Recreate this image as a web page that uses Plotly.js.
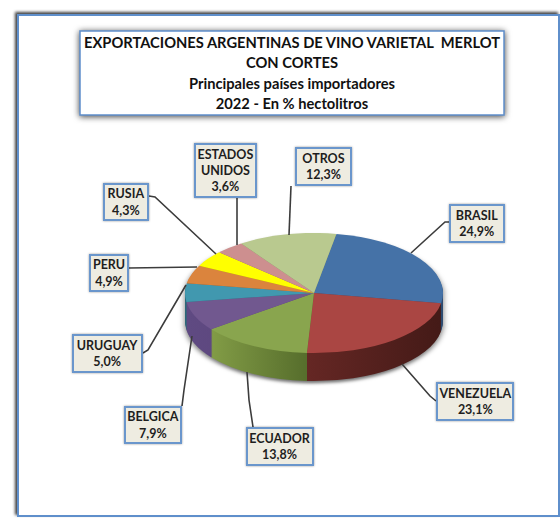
<!DOCTYPE html>
<html><head><meta charset="utf-8">
<script src="https://cdn.plot.ly/plotly-3.0.1.min.js"></script>
<style>html,body{margin:0;padding:0;background:#fff}#c{width:560px;height:518px}</style></head>
<body><div id="c"></div>
<script>
const categories = ["BRASIL","VENEZUELA","ECUADOR","BELGICA","URUGUAY","PERU","RUSIA","ESTADOS UNIDOS","OTROS"];
const shares = [24.9,23.1,13.8,7.9,5.0,4.9,4.3,3.6,12.3];
const shareLabels = ["24,9%","23,1%","13,8%","7,9%","5,0%","4,9%","4,3%","3,6%","12,3%"];
const labelLines = ["BRASIL","VENEZUELA","ECUADOR","BELGICA","URUGUAY","PERU","RUSIA","ESTADOS<br>UNIDOS","OTROS"];
const topColors = ["#4572a7","#aa4643","#89a54e","#71588f","#4198af","#db843d","#ffff00","#cd8f8f","#b9c98f"];
const wallColors = ["#2f4d72","#4a1c19","#687f38","#5c4679","#2d6a7a","#96592a","#aaaa00","#8b6060","#7e8a60"];
const titleLines = ["EXPORTACIONES ARGENTINAS DE VINO VARIETAL  MERLOT","CON CORTES","Principales países importadores","2022 - En % hectolitros"];
const titleBaselines = [48,68,89,109];

// label boxes [left, top, right, bottom] in page pixels
const boxes = [[449,204,505,243],[436,382,514,421],[246,427,314,466],[124,406,182,444],[72,334,143,373],[89,254,129,292],[103,183,149,221],[194,143,257,198],[295,147,352,186]];
// leader lines
const leaders = [
 [[449,222],[445,222],[411,253]],
 [[402,364],[430,396],[436,401]],
 [[247,372],[249,400],[253,427]],
 [[192,336],[184,390],[182,406]],
 [[186,285],[148,350],[143,353]],
 [[197,267],[129,268]],
 [[216,254],[155,197],[149,196]],
 [[237,198],[237,245]],
 [[291,186],[289,235]]
];
const W=560,H=518,cx=314,cy=293,rx=129,ry=60,depth=28,rotation=10;
const squash=ry/rx;
const px=v=>v/W, py=v=>1-v/H;

function pieTrace(offset,colors){
  const c=cy+offset/squash;
  return {type:"pie",labels:categories,values:shares,sort:false,direction:"clockwise",rotation:rotation,
    textinfo:"none",hoverinfo:"label+percent",showlegend:false,
    domain:{x:[px(cx-rx),px(cx+rx)],y:[py(c+rx),py(c-rx)]},
    marker:{colors:colors,line:{width:0}}};
}
const traces=[];
for(let k=depth;k>0;k--) traces.push(pieTrace(k,wallColors));
traces.push(pieTrace(0,topColors));

const shapes=[
 {type:"rect",xref:"paper",yref:"paper",x0:px(18),x1:px(559),y0:py(15),y1:py(516),fillcolor:"#ffffff",line:{color:"#5f8fcb",width:2},layer:"below"},
 {type:"rect",xref:"paper",yref:"paper",x0:px(80),x1:px(504),y0:py(31),y1:py(115),fillcolor:"#ffffff",line:{color:"#5f8fcb",width:1.5},layer:"below"}
];
leaders.forEach(p=>shapes.push({type:"path",xref:"paper",yref:"paper",layer:"above",
  path:p.map((q,i)=>(i?"L":"M")+px(q[0])+","+py(q[1])).join(" "),line:{color:"#3c3c3c",width:1.6}}));

const annotations=categories.map((c,i)=>{
  const b=boxes[i];
  return {xref:"paper",yref:"paper",x:px((b[0]+b[2])/2),y:py((b[1]+b[3])/2),xanchor:"center",yanchor:"middle",
    showarrow:false,text:"<b>"+labelLines[i]+"<br>"+shareLabels[i]+"</b>",align:"center",
    width:b[2]-b[0]-4,height:b[3]-b[1]-4,bgcolor:"#eeece1",bordercolor:"#6a96cc",borderwidth:2,borderpad:0,
    font:{family:"Lato",size:12.5,color:"#1e1e1e"}};
});

const layout={width:W,height:H,margin:{l:0,r:0,t:0,b:0},paper_bgcolor:"#ffffff",showlegend:false,hovermode:false,
  title:{text:titleLines.map(t=>"<b>"+t+"</b>").join("<br>"),x:292/W,xanchor:"center",xref:"paper",y:1-34/H,yanchor:"top",yref:"paper",
    font:{family:"Lato",size:14.7,color:"#111111"}},
  shapes:shapes,annotations:annotations};

Plotly.newPlot("c",traces,layout,{displayModeBar:false,staticPlot:true}).then(gd=>{
  const svgNS="http://www.w3.org/2000/svg";
  const mk=(tag,attrs,parent)=>{const e=document.createElementNS(svgNS,tag);for(const k in attrs)e.setAttribute(k,attrs[k]);if(parent)parent.appendChild(e);return e;};
  const svg=gd.querySelector(".main-svg");
  const defs=svg.querySelector("defs")||svg.insertBefore(mk("defs",{}),svg.firstChild);
  const grad=(id,a,b)=>{const g=mk("linearGradient",{id,x1:0,y1:0,x2:1,y2:0},defs);
    mk("stop",{offset:0,"stop-color":a},g);mk("stop",{offset:1,"stop-color":b},g);};
  grad("wg1","#652724","#441a17");
  grad("wg2","#829c46","#536a2a");
  grad("wg3","#5f4a82","#5a4278");
  // flatten the pies into the ellipse
  const pl=gd.querySelector(".pielayer");
  pl.setAttribute("transform",`translate(0,${cy}) scale(1,${squash}) translate(0,${-cy})`);
  pl.style.filter="drop-shadow(0px 5px 3px rgba(0,0,0,0.55))";
  const tr=pl.querySelectorAll(".trace");
  tr.forEach((t,i)=>{ if(i<tr.length-1){
    const s=t.querySelectorAll("path.surface");
    [1,2,3].forEach(j=>{ if(s[j]) s[j].style.fill=`url(#wg${j})`; });
  }});
  const lower=gd.querySelectorAll(".layer-below .shapelayer path");
  if(lower[0]) lower[0].style.filter="drop-shadow(-2px -2px 1.5px rgba(0,0,0,0.75))";
  if(lower[1]) lower[1].style.filter="drop-shadow(0px 1px 3px rgba(0,0,0,0.75))";
  gd.querySelectorAll(".annotation .bg").forEach(r=>{r.style.filter="drop-shadow(0.5px 0.5px 1px rgba(0,0,0,0.4))";});
  // title line spacing: each wrapped line gets its own baseline
  const title=gd.querySelector(".gtitle");
  title.removeAttribute("dy");
  title.setAttribute("y",titleBaselines[0]);
  title.removeAttribute("transform");
  const norm=s=>s.replace(/\s+/g," ").trim();
  title.querySelectorAll("tspan.line").forEach(t=>{
    const idx=titleLines.findIndex(l=>norm(l)===norm(t.textContent));
    t.removeAttribute("dy");
    if(idx>=0) t.setAttribute("y",titleBaselines[idx]);
  });
});
</script></body></html>
